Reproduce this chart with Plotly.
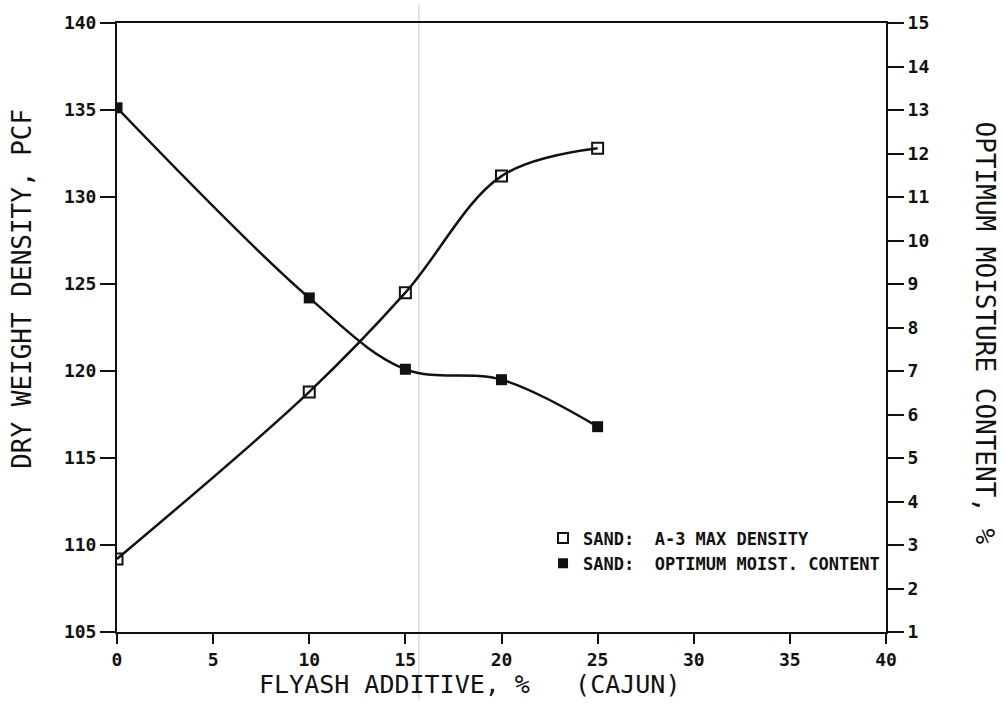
import plotly.graph_objects as go

flyash_pct = [0, 10, 15, 20, 25]
max_density_pcf = [109.2, 118.8, 124.5, 131.2, 132.8]
opt_moisture_pct = [13.05, 8.68, 7.04, 6.80, 5.72]

x_ticks = [0, 5, 10, 15, 20, 25, 30, 35, 40]
left_ticks = [105, 110, 115, 120, 125, 130, 135, 140]
right_ticks = list(range(1, 16))

FONT = "DejaVu Sans Mono"
INK = "#111111"

fig = go.Figure()

fig.add_trace(go.Scatter(
    x=flyash_pct, y=max_density_pcf, mode="lines+markers",
    line=dict(color=INK, width=2.5, shape="spline", smoothing=1.0),
    marker=dict(symbol="square-open", size=11, color=INK, line=dict(width=2, color=INK)),
    showlegend=False, yaxis="y"))

fig.add_trace(go.Scatter(
    x=flyash_pct, y=opt_moisture_pct, mode="lines+markers",
    line=dict(color=INK, width=2.5, shape="spline", smoothing=1.0),
    marker=dict(symbol="square", size=11, color=INK),
    showlegend=False, yaxis="y2"))

# legend-only entries (marker only)
fig.add_trace(go.Scatter(
    x=[None], y=[None], mode="markers", name="SAND:  A-3 MAX DENSITY",
    marker=dict(symbol="square-open", size=10, color=INK, line=dict(width=2, color=INK))))
fig.add_trace(go.Scatter(
    x=[None], y=[None], mode="markers", name="SAND:  OPTIMUM MOIST. CONTENT",
    marker=dict(symbol="square", size=10, color=INK)))

tick_font = dict(family=FONT, size=18, color=INK, weight="bold")

fig.update_layout(
    width=1004, height=704,
    margin=dict(l=117, r=118, t=18, b=72),
    paper_bgcolor="white", plot_bgcolor="white",
    font=dict(family=FONT, size=18, color=INK),
    xaxis=dict(range=[0, 40], tickvals=x_ticks, ticktext=[str(v) for v in x_ticks],
               showline=True, linecolor=INK, linewidth=2, mirror=True,
               ticks="outside", ticklen=10, tickwidth=2, tickcolor=INK,
               showgrid=False, zeroline=False, tickfont=tick_font),
    yaxis=dict(range=[105, 140], tickvals=left_ticks, ticktext=[str(v) for v in left_ticks],
               showline=True, linecolor=INK, linewidth=2,
               ticks="outside", ticklen=15, tickwidth=2, tickcolor=INK,
               showgrid=False, zeroline=False, tickfont=tick_font),
    yaxis2=dict(range=[1, 15], tickvals=right_ticks, ticktext=[str(v) for v in right_ticks],
                overlaying="y", side="right",
                showline=True, linecolor=INK, linewidth=2,
                ticks="outside", ticklen=16, tickwidth=2, tickcolor=INK,
                showgrid=False, zeroline=False, tickfont=tick_font),
    legend=dict(x=0.554, y=0.183, xanchor="left", yanchor="top",
                bgcolor="rgba(0,0,0,0)", font=dict(family=FONT, size=17, color=INK, weight="bold"),
                itemwidth=30),
    annotations=[
        dict(text="DRY WEIGHT DENSITY, PCF", xref="paper", yref="paper",
             x=-0.1235, y=0.5635, xanchor="center", yanchor="middle",
             textangle=-90, showarrow=False,
             font=dict(family=FONT, size=26, color=INK)),
        dict(text="OPTIMUM MOISTURE CONTENT, %", xref="paper", yref="paper",
             x=1.1287, y=0.49, xanchor="center", yanchor="middle",
             textangle=90, showarrow=False,
             font=dict(family=FONT, size=26, color=INK)),
        dict(text="FLYASH ADDITIVE, %   (CAJUN)", xref="paper", yref="paper",
             x=0.459, y=-0.0863, xanchor="center", yanchor="middle", showarrow=False,
             font=dict(family=FONT, size=25, color=INK)),
    ],
    shapes=[
        dict(type="line", xref="x", yref="paper", x0=15.7, x1=15.7, y0=-0.11, y1=1.03,
             line=dict(color="#c8c8c8", width=1), layer="below"),
    ],
)

fig.write_html("out.html")
